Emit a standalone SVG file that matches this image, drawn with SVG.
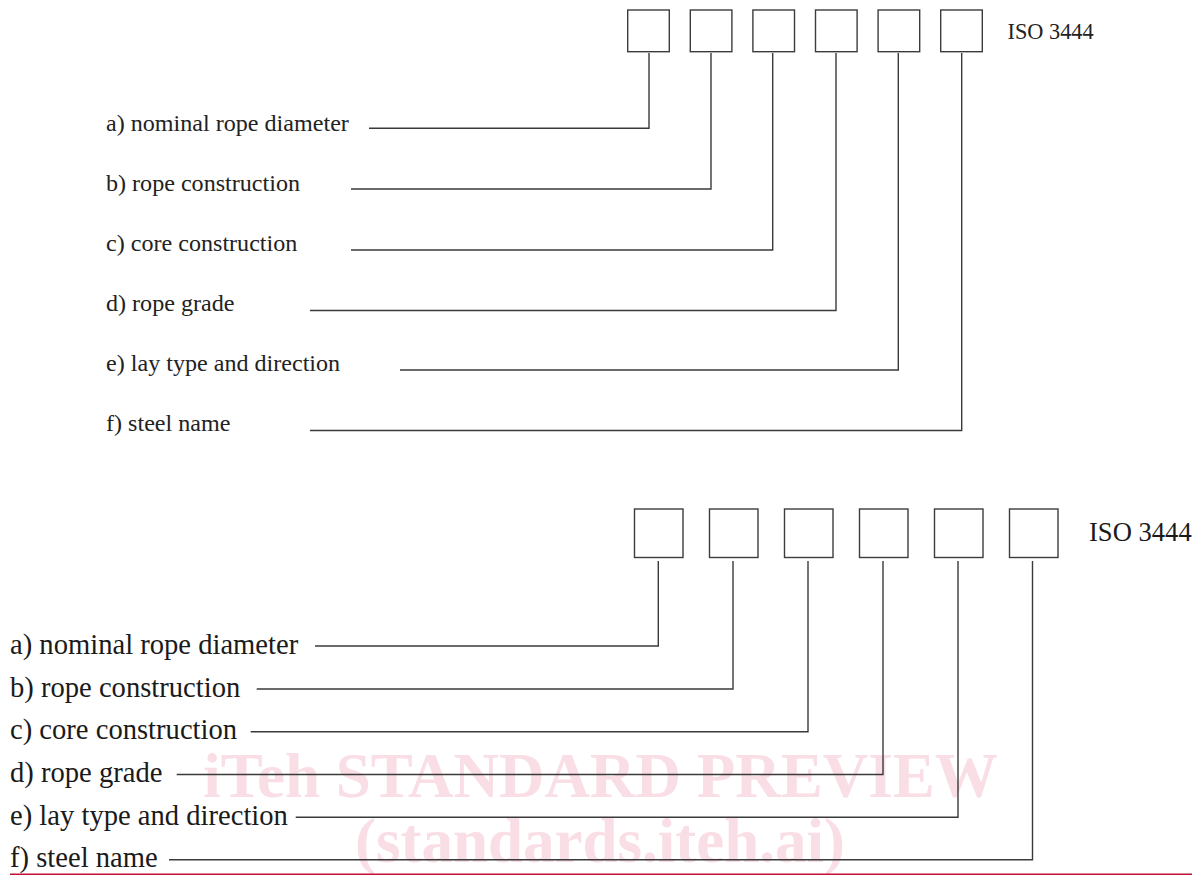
<svg xmlns="http://www.w3.org/2000/svg" width="1202" height="875" viewBox="0 0 1202 875">
<style>
.box{fill:#fff;stroke:#3c3c3c;stroke-width:1.4}
.conn{fill:none;stroke:#3a3a3a;stroke-width:1.4}
.t1{font-family:"Liberation Serif","Times New Roman",serif;font-size:24.1px;fill:#222}
.t2{font-family:"Liberation Serif","Times New Roman",serif;font-size:28.6px;fill:#1a1a1a}
.wm{font-family:"Liberation Serif","Times New Roman",serif;font-weight:bold;font-size:63px;fill:#f9dee5;text-anchor:middle}
</style>
<rect width="1202" height="875" fill="#fff"/>
<g id="watermark">
<text class="wm" x="600.5" y="797">iTeh STANDARD PREVIEW</text>
<text class="wm" x="600" y="862">(standards.iteh.ai)</text>
</g>
<g id="top">
<g id="top-box-a"><rect class="box" x="627.7" y="10" width="41.6" height="41.7"/></g>
<g id="top-box-b"><rect class="box" x="690.3" y="10" width="41.6" height="41.7"/></g>
<g id="top-box-c"><rect class="box" x="752.9" y="10" width="41.6" height="41.7"/></g>
<g id="top-box-d"><rect class="box" x="815.5" y="10" width="41.6" height="41.7"/></g>
<g id="top-box-e"><rect class="box" x="878.1" y="10" width="41.6" height="41.7"/></g>
<g id="top-box-f"><rect class="box" x="940.7" y="10" width="41.6" height="41.7"/></g>
<g id="top-iso"><text class="t1" x="1007.5" y="38.5" style="font-size:22.3px">ISO 3444</text></g>
<g id="top-label-a"><text class="t1" x="106" y="130.5">a) nominal rope diameter</text></g>
<g id="top-label-b"><text class="t1" x="106" y="191">b) rope construction</text></g>
<g id="top-label-c"><text class="t1" x="106" y="251">c) core construction</text></g>
<g id="top-label-d"><text class="t1" x="106" y="311">d) rope grade</text></g>
<g id="top-label-e"><text class="t1" x="106" y="371">e) lay type and direction</text></g>
<g id="top-label-f"><text class="t1" x="106" y="431">f) steel name</text></g>
</g>
<g id="bottom">
<g id="bot-box-a"><rect class="box" x="634.5" y="509" width="48.5" height="48.5"/></g>
<g id="bot-box-b"><rect class="box" x="709.5" y="509" width="48.5" height="48.5"/></g>
<g id="bot-box-c"><rect class="box" x="784.5" y="509" width="48.5" height="48.5"/></g>
<g id="bot-box-d"><rect class="box" x="859.5" y="509" width="48.5" height="48.5"/></g>
<g id="bot-box-e"><rect class="box" x="934.5" y="509" width="48.5" height="48.5"/></g>
<g id="bot-box-f"><rect class="box" x="1009.5" y="509" width="48.5" height="48.5"/></g>
<g id="bot-iso"><text class="t2" x="1089" y="541" style="font-size:26.6px">ISO 3444</text></g>
<g id="bot-label-a"><text class="t2" x="10" y="653.5">a) nominal rope diameter</text></g>
<g id="bot-label-b"><text class="t2" x="10" y="696.5">b) rope construction</text></g>
<g id="bot-label-c"><text class="t2" x="10" y="739">c) core construction</text></g>
<g id="bot-label-d"><text class="t2" x="10" y="782">d) rope grade</text></g>
<g id="bot-label-e"><text class="t2" x="10" y="824.5">e) lay type and direction</text></g>
<g id="bot-label-f"><text class="t2" x="10" y="867">f) steel name</text></g>
</g>
<g id="connectors">
<path class="conn" d="M369 128.3 H649 V53"/>
<path class="conn" d="M351 189 H711 V53"/>
<path class="conn" d="M351 250 H772.7 V53"/>
<path class="conn" d="M310 310.5 H836 V53"/>
<path class="conn" d="M400 370 H898.3 V53"/>
<path class="conn" d="M310 430.5 H961.7 V53"/>
<path class="conn" d="M315 646 H658.3 V561"/>
<path class="conn" d="M256.7 689 H733 V561"/>
<path class="conn" d="M250.7 731.7 H808 V561"/>
<path class="conn" d="M176.7 774.5 H883 V561"/>
<path class="conn" d="M295.7 817.3 H958 V561"/>
<path class="conn" d="M169 859.7 H1032.5 V561"/>
</g>
<line id="rule" x1="10" y1="874.3" x2="1192" y2="874.3" stroke="#c41039" stroke-width="1.6"/>
</svg>
